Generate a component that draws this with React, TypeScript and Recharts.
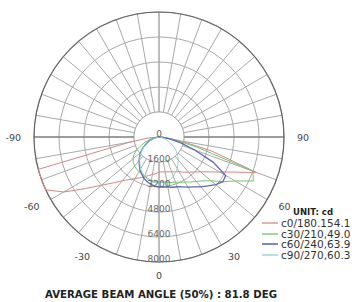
import React from 'react';
import { PolarAngleAxis, PolarGrid, PolarRadiusAxis, Radar, RadarChart } from 'recharts';

// angle categories around the circle, counter-clockwise from nadir (0)
const angleCategories = [
  0, 5, 10, 15, 20, 25, 30, 35, 40, 45, 50, 55, 60, 65, 70, 75, 80, 85, 90, 95, 100, 105, 110, 115,
  120, 125, 130, 135, 140, 145, 150, 155, 160, 165, 170, 175, 180, 185, 190, 195, 200, 205, 210,
  215, 220, 225, 230, 235, 240, 245, 250, 255, 260, 265, 270, 275, 280, 285, 290, 295, 300, 305,
  310, 315, 320, 325, 330, 335, 340, 345, 350, 355,
];

// gamma angles where intensities were read (lower half of the diagram)
const gammaAngles = [
  -90, -85, -80, -75, -70, -65, -60, -55, -50, -45, -40, -35, -30, -25, -20, -15, -10, -5, 0, 5, 10,
  15, 20, 25, 30, 35, 40, 45, 50, 55, 60, 65, 70, 75, 80, 85, 90,
];

// intensities in cd
const c0_180 = [
  0, 640, 1920, 8000, 8000, 8000, 7040, 5760, 4800, 4160, 3650, 3330, 3070, 2880, 2690, 2560, 2430,
  2370, 2240, 2240, 2270, 2300, 2370, 2460, 2560, 2750, 2940, 3170, 3460, 3900, 4480, 5310, 6660,
  3520, 1410, 380, 0,
];
const c30_210 = [
  0, 150, 320, 600, 900, 1250, 1660, 1950, 2180, 2320, 2430, 2500, 2560, 2620, 2690, 2750, 2820,
  2850, 2880, 2890, 2940, 3010, 3070, 3200, 3330, 3520, 3710, 3970, 4350, 4990, 5630, 6660, 6400,
  2560, 960, 320, 0,
];
const c60_240 = [
  0, 90, 190, 380, 580, 800, 1020, 1280, 1540, 1760, 1980, 2200, 2430, 2620, 2820, 2950, 3070, 3150,
  3200, 3200, 3260, 3330, 3390, 3520, 3710, 3900, 4160, 4420, 4740, 4990, 4930, 3840, 2430, 1410,
  640, 190, 0,
];
const c90_270 = [
  0, 60, 190, 330, 520, 710, 970, 1230, 1480, 1710, 1930, 2120, 2380, 2510, 2700, 2830, 2890, 2930,
  2940, 2920, 2870, 2810, 2680, 2490, 2360, 2100, 1910, 1690, 1460, 1210, 950, 690, 500, 310, 180,
  60, 0,
];

const series = [
  { key: 'c0', name: 'c0/180.154.1', color: '#cf8a8a', width: 1, values: c0_180 },
  { key: 'c30', name: 'c30/210,49.0', color: '#6fc86f', width: 1, values: c30_210 },
  { key: 'c60', name: 'c60/240,63.9', color: '#5f68b4', width: 1.3, values: c60_240 },
  { key: 'c90', name: 'c90/270,60.3', color: '#8fd0d0', width: 1, values: c90_270 },
];

const angleLabels = [-90, -60, -30, 0, 30, 60, 90];
const ringValues = [1600, 3200, 4800, 6400, 8000];
const innerRing = 1600;
const maxCd = 8000;

const data = angleCategories.map((a) => {
  const gamma = a <= 180 ? a : a - 360;
  const idx = gammaAngles.indexOf(gamma);
  const row: Record<string, number> = { angle: a, inner: innerRing };
  series.forEach((s) => {
    row[s.key] = idx >= 0 ? s.values[idx] : 0;
  });
  return row;
});

const font = 'DejaVu Sans, Verdana, sans-serif';

const AngleTick = (props: any) => {
  const { x, y, payload, textAnchor } = props;
  const a = Number(payload.value);
  if (a >= 360) return null;
  const gamma = a <= 180 ? a : a - 360;
  if (!angleLabels.includes(gamma)) return null;
  const rad = (payload.coordinate * Math.PI) / 180;
  return (
    <text
      x={x + 5 * Math.cos(rad)}
      y={y - 5 * Math.sin(rad)}
      textAnchor={textAnchor}
      dominantBaseline="central"
      fontSize={9.5}
      fontFamily={font}
      fill="#444"
    >
      {gamma}
    </text>
  );
};

const RadiusTick = (props: any) => {
  const { x, y, payload } = props;
  const v = Number(payload.value);
  if (v !== 0 && !ringValues.includes(v)) return null;
  return (
    <text
      x={x}
      y={y - 3}
      textAnchor="middle"
      dominantBaseline="central"
      fontSize={9}
      fontFamily={font}
      fill="#666"
    >
      {v}
    </text>
  );
};

// grid radii in px (outerRadius 125 = 8000 cd)
const gridRadii = ringValues.map((v) => (v / maxCd) * 125);

export default function App() {
  return (
    <div
      style={{
        position: 'absolute',
        left: 0,
        top: 0,
        width: 357,
        height: 302,
        background: '#fff',
        fontFamily: font,
      }}
    >
      <RadarChart
        width={357}
        height={302}
        data={data}
        cx={159}
        cy={137}
        outerRadius={125}
        startAngle={-90}
        endAngle={270}
        margin={{ top: 0, right: 0, bottom: 0, left: 0 }}
      >
        <PolarGrid
          gridType="circle"
          polarAngles={[90, 270]}
          polarRadius={[]}
          stroke="#cfcfcf"
          strokeWidth={2}
        />
        <PolarGrid
          gridType="circle"
          polarAngles={[0, 10, 20, 30, 40, 50, 60, 70, 80, 90, 100, 110, 120, 130, 140, 150, 160, 170, 180, 190, 200, 210, 220, 230, 240, 250, 260, 270, 280, 290, 300, 310, 320, 330, 340, 350]}
          polarRadius={gridRadii}
          stroke="#a9a9a9"
          strokeWidth={1}
        />
        <PolarGrid
          gridType="circle"
          polarAngles={[0, 180]}
          polarRadius={[125]}
          stroke="#666"
          strokeWidth={1.2}
        />
        <PolarAngleAxis
          dataKey="angle"
          type="number"
          domain={[0, 360]}
          tickCount={13}
          tick={<AngleTick />}
          tickLine={false}
          axisLine={false}
        />
        <Radar
          dataKey="inner"
          stroke="#a9a9a9"
          strokeWidth={1}
          fill="#fff"
          fillOpacity={1}
          dot={false}
          legendType="none"
          isAnimationActive={false}
        />
        {series.map((s) => (
          <Radar
            key={s.key}
            name={s.name}
            dataKey={s.key}
            stroke={s.color}
            strokeWidth={s.width}
            fill="none"
            fillOpacity={0}
            dot={false}
            isAnimationActive={false}
          />
        ))}
        <PolarRadiusAxis
          type="number"
          angle={-90}
          domain={[0, maxCd]}
          tickCount={11}
          tick={<RadiusTick />}
          axisLine={false}
        />
      </RadarChart>

      <div style={{ position: 'absolute', left: 262, top: 206, width: 95, overflow: 'hidden' }}>
        <div
          style={{
            fontSize: 8.5,
            fontWeight: 'bold',
            color: '#222',
            textAlign: 'center',
            width: 90,
            lineHeight: '12px',
            marginLeft: 6,
          }}
        >
          UNIT: cd
        </div>
        {series.map((s) => (
          <div
            key={s.key}
            style={{ display: 'flex', alignItems: 'center', height: 10.5, whiteSpace: 'nowrap' }}
          >
            <svg width={19} height={10} style={{ flex: 'none' }}>
              <line x1={0} y1={5} x2={16} y2={5} stroke={s.color} strokeWidth={s.width + 0.3} />
            </svg>
            <span style={{ fontSize: 10.5, color: '#333', lineHeight: '10.5px' }}>{s.name}</span>
          </div>
        ))}
      </div>

      <div
        style={{
          position: 'absolute',
          left: 0,
          top: 288,
          width: 322,
          textAlign: 'center',
          fontSize: 10.2,
          fontWeight: 'bold',
          color: '#222',
          lineHeight: '14px',
          whiteSpace: 'nowrap',
        }}
      >
        AVERAGE BEAM ANGLE (50%) : 81.8 DEG
      </div>
    </div>
  );
}
